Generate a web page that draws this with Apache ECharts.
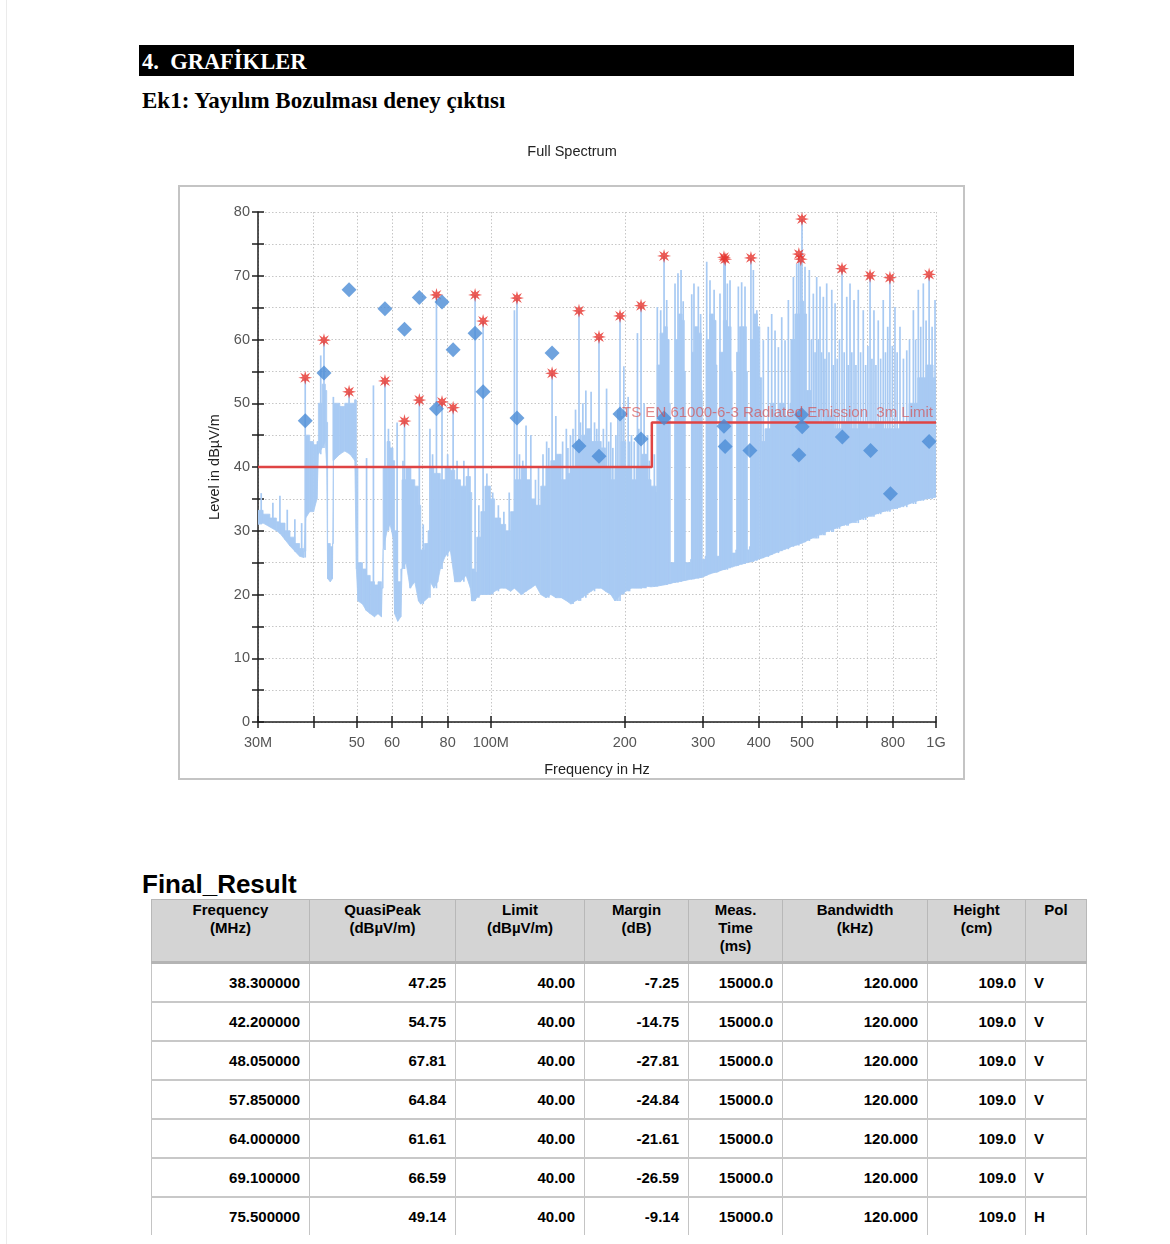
<!DOCTYPE html>
<html><head><meta charset="utf-8">
<script src="https://cdn.jsdelivr.net/npm/echarts@6/dist/echarts.min.js"></script>
<style>
html,body{margin:0;padding:0;background:#fff;}
body{width:1170px;height:1244px;position:relative;overflow:hidden;font-family:"Liberation Sans",Arial,sans-serif;}
#edge{position:absolute;left:6px;top:0;width:1px;height:1244px;background:#ebebeb;}
#hdr{position:absolute;left:139px;top:45px;width:935px;height:31px;background:#000;color:#fff;font:bold 22.5px "Liberation Serif","Times New Roman",serif;line-height:33px;padding-left:3px;box-sizing:border-box;white-space:pre;}
#sub{position:absolute;left:142px;top:88px;font:bold 23px "Liberation Serif","Times New Roman",serif;color:#000;}
#chart{position:absolute;left:0;top:130px;width:1170px;height:670px;}
#fr{position:absolute;left:142px;top:869px;font:bold 26px "Liberation Sans",Arial,sans-serif;color:#000;line-height:30px;}
#tbl{position:absolute;left:151px;top:899px;border-collapse:collapse;table-layout:fixed;width:935px;font:bold 15px "Liberation Sans",Arial,sans-serif;color:#000;}
#tbl th{background:#d4d4d4;height:60px;vertical-align:top;text-align:center;font-weight:bold;line-height:18px;padding:1px 2px 0;border:1px solid #b8b8b8;border-bottom:3px solid #b4b4b4;}
#tbl td{height:37px;text-align:right;padding:0 9px 0 0;border-left:1px solid #c4c4c4;border-right:1px solid #c4c4c4;border-top:2px solid #c8c8c8;}
#tbl td.pol{text-align:left;padding:0 0 0 8px;}
</style></head>
<body>
<div id="edge"></div>
<div id="hdr">4.  GRAFİKLER</div>
<div id="sub">Ek1: Yayılım Bozulması deney çıktısı</div>
<div id="chart"></div>
<div id="fr">Final_Result</div>
<table id="tbl"><colgroup>
<col style="width:158px"><col style="width:146px"><col style="width:129px"><col style="width:104px"><col style="width:94px"><col style="width:145px"><col style="width:98px"><col style="width:61px">
</colgroup><thead><tr id="thead"></tr></thead><tbody id="tbody"></tbody></table>
<script>
// ---------------- data ----------------
const bandFreq = [30.0,30.8,31.9,33.0,33.6,34.5,35.4,36.3,37.2,38.0,38.4,39.2,40.0,40.7,41.0,41.8,42.5,42.8,43.0,43.6,44.1,44.3,45.8,47.0,48.3,49.5,49.9,50.3,51.5,52.5,53.6,54.8,55.8,56.8,57.3,58.5,59.4,60.3,60.8,61.8,62.8,63.2,64.5,65.9,67.5,68.8,69.6,71.0,72.3,73.1,74.5,76.0,77.0,79.0,81.1,83.0,85.5,88.0,90.0,90.6,92.0,93.0,95.0,97.0,99.8,102.0,105.2,108.0,110.8,113.0,117.0,120.0,123.0,126.0,129.5,133.0,136.4,140.0,144.0,148.0,151.4,155.0,160.0,164.0,168.0,172.0,177.0,181.0,186.0,190.0,196.0,201.0,207.0,212.0,218.0,224.0,229.0,235.5,236.5,240,245,249,251.5,253,258,259.5,264,269,272,273.5,281,282.5,287,293,297,298.5,303,304.5,310,316,320.5,322,325,326.5,333,340,346.5,348.5,355,356.5,362,368,375,377,381,383,390,397,402,406,413,425,435,445,458,470,472,482,495,505,512,525,545,565,590,615,641,670,700,730,760,795,830,870,910,950,985,1000];
const bandLow  = [31.0,31.2,30.6,30.0,29.6,28.6,27.6,26.8,26.0,25.8,32.0,33.0,33.0,35.0,42.0,43.0,44.0,40.0,22.5,22.0,22.5,41.0,42.0,42.5,42.0,41.0,24.0,19.0,18.5,17.5,17.0,16.5,17.0,16.5,27.0,30.0,31.0,29.0,17.0,15.8,16.5,24.0,25.0,21.0,22.0,19.0,18.5,19.0,19.5,22.0,21.0,22.0,24.0,26.0,27.0,22.0,22.0,23.0,21.0,19.0,19.0,19.5,20.0,20.0,20.0,20.5,21.0,21.0,20.5,21.0,20.0,20.5,21.0,21.5,20.0,19.5,20.0,19.5,19.5,19.0,18.5,19.0,19.5,20.0,20.5,21.0,21.0,20.5,20.0,19.0,20.0,20.5,21.0,21.0,21.0,21.3,21.2,21.3,21.3,21.4,21.5,21.6,21.7,21.7,21.9,21.9,22.0,22.1,22.2,22.2,22.4,22.4,22.5,22.6,22.7,22.7,22.9,23.0,23.2,23.4,23.5,23.5,23.6,23.7,23.9,24.1,24.3,24.3,24.5,24.5,24.7,24.8,25.0,25.0,25.1,25.1,25.3,25.5,25.6,25.7,25.9,26.2,26.5,26.8,27.1,27.4,27.5,27.7,28.0,28.2,28.4,28.8,29.3,29.8,30.3,30.8,31.2,31.7,32.2,32.6,33.0,33.4,33.7,34.2,34.7,35.0,35.2,35.3];
const bandHigh = [33.2,32.6,32.0,31.4,31.2,30.0,29.0,28.0,27.2,26.8,45.0,44.0,43.5,44.0,50.0,53.0,52.0,47.0,28.0,27.5,28.0,50.0,49.5,50.0,50.0,50.5,40.0,25.0,24.0,23.0,22.0,21.5,22.0,21.0,40.0,44.0,43.0,41.0,30.0,22.0,24.0,38.0,40.0,38.0,37.0,34.0,27.0,28.0,30.0,40.0,39.0,39.0,38.0,40.0,39.5,38.0,37.0,38.5,36.0,24.0,23.5,29.0,33.0,37.0,35.0,32.0,31.0,30.0,33.0,38.0,40.0,38.0,35.0,34.0,37.0,40.0,41.0,42.0,38.0,39.0,40.0,44.0,45.0,46.0,44.0,44.0,43.0,40.0,38.0,40.0,44.0,40.0,38.0,40.0,42.0,38.0,37.0,36.0,56.0,61.0,62.0,60.0,50.0,25.0,25.0,60.0,64.0,63.0,55.0,25.0,25.5,58.0,62.0,61.0,52.0,25.5,26.0,60.0,64.0,63.0,56.0,26.0,26.0,58.0,63.0,62.0,55.0,26.5,27.0,58.0,62.0,62.0,55.0,27.0,27.5,60.0,64.0,62.0,54.0,44.0,46.0,50.0,48.0,50.0,48.0,50.0,60.0,64.0,66.0,64.0,52.0,48.0,47.0,48.0,46.0,47.0,46.0,47.0,46.0,47.0,46.0,46.0,47.0,50.0,54.0,56.0,54.0,47.0];

const spikeFreq = [30.5,32.4,33.6,34.9,36.3,37.6,38.3,41.5,42.2,44.3,48.05,49.6,52.6,54.5,57.85,58.9,61.6,63.5,64.0,66.0,69.1,70.5,73.0,74.0,75.5,77.7,80.0,82.3,84.0,87.0,89.0,92.2,94.0,96.1,98.0,101.0,104.0,107.0,110.0,113.0,114.5,116.0,118.0,120.0,123.0,126.0,128.0,131.0,133.5,135.0,137.3,140.0,143.0,145.0,147.8,149.0,151.0,153.0,155.0,157.8,159.0,161.0,163.5,168.0,171.0,173.0,175.0,179.0,182.0,184.0,186.0,188.0,191.0,193.0,195.1,197.0,199.0,203.5,205.0,207.0,210.0,213.5,215.0,217.5,221.0,223.0,225.0,227.0,233.0,236.6,240.8,245.0,248.4,259.3,263.3,267.5,270.5,282.7,286.0,292.5,296.0,305.5,310.7,317.4,327.2,334.0,336.0,339.9,344.6,359.8,366.0,372.4,384.0,388.8,395.8,409.4,420.0,427.5,435.0,442.6,450.3,458.1,466.0,478.3,486.6,492.0,497.0,500.0,507.9,519.3,525.0,530.2,535.0,539.5,544.0,548.9,553.5,558.4,563.0,568.2,575.0,583.3,588.0,593.4,600.0,607.0,615.0,622.0,630.3,635.0,641.0,647.0,654.4,661.0,669.0,677.0,686.5,695.0,703.0,711.0,718.0,725.5,733.0,741.8,751.0,761.2,770.0,779.0,788.0,798.0,808.8,818.0,830.0,845.0,859.6,872.0,889.6,900.0,912.6,924.0,936.5,950.0,965.0,980.0,995.0];
const spikeTop  = [35.9,34.4,35.5,33.3,31.8,31.2,54.0,57.5,59.9,51.0,51.8,50.6,41.4,52.8,53.5,46.0,47.0,41.0,47.2,40.0,50.5,31.0,46.0,42.0,67.0,50.2,42.0,49.3,41.0,41.0,40.0,67.0,34.0,62.9,39.0,36.0,34.0,33.0,36.0,64.6,66.5,42.0,41.0,46.5,45.0,38.0,40.0,42.0,44.0,43.0,54.7,48.0,42.0,44.0,46.0,43.0,45.0,46.0,49.0,64.5,47.0,50.0,52.0,51.8,47.0,46.0,60.4,46.0,52.3,44.0,47.0,43.0,45.0,49.0,63.7,48.0,55.8,51.0,44.0,45.0,44.0,61.0,46.0,65.3,50.0,42.0,45.0,41.0,42.0,65.1,64.6,73.1,66.2,68.8,70.4,70.9,66.0,67.1,68.8,68.3,64.0,72.2,69.3,67.8,67.2,72.7,73.0,68.8,69.3,68.3,69.0,68.3,72.8,70.9,64.6,59.9,62.0,64.0,61.4,58.8,63.5,59.9,66.2,69.8,71.9,73.4,72.6,78.9,71.4,70.9,60.0,67.2,58.0,69.8,60.0,68.3,58.0,66.7,57.0,68.8,58.0,67.8,56.0,65.7,57.0,60.0,71.1,58.0,66.7,56.0,68.8,58.0,66.2,56.0,67.8,58.0,64.6,56.0,59.0,70.0,57.0,64.6,56.0,63.0,57.0,66.2,58.0,62.0,69.8,59.0,65.1,58.0,62.0,57.0,58.3,60.0,64.6,60.0,67.8,62.0,68.8,63.0,70.1,62.0,66.2];

const limitFreq  = [30, 230, 230, 1000];
const limitLevel = [40, 40, 47, 47];
const limitName  = 'TS EN 61000-6-3 Radiated Emission  3m Limit';

const starFreq  = [38.3,42.2,48.05,57.85,64.0,69.1,75.5,77.7,82.3,92.2,96.1,114.5,137.3,157.8,175.0,195.1,217.5,245.0,334.0,336.0,384.0,492.0,497.0,500.0,615.0,711.0,788.0,965.0];
const starLevel = [54.0,59.9,51.8,53.5,47.2,50.5,67.0,50.2,49.3,67.0,62.9,66.5,54.7,64.5,60.4,63.7,65.3,73.1,72.9,72.6,72.8,73.4,72.6,78.9,71.1,70.0,69.7,70.2];

const qpFreq  = [38.3,42.2,48.05,57.85,64.0,69.1,75.5,77.7,82.3,92.2,96.1,114.5,137.3,157.8,175.0,195.1,217.5,245.0,334.0,336.0,382.0,492.0,499.0,500.5,616.0,713.0,790.0,965.0];
const qpLevel = [47.25,54.75,67.81,64.84,61.61,66.59,49.14,65.9,58.4,61.0,51.8,47.7,57.9,43.3,41.7,48.3,44.4,47.7,46.4,43.2,42.6,41.9,48.2,46.3,44.7,42.6,35.8,44.0];

const xTickFreq  = [30,40,50,60,70,80,100,200,300,400,500,600,700,800,1000];
const xLabelFreq = [30,50,60,80,100,200,300,400,500,800,1000];
const xLabelText = {30:'30M', 100:'100M', 1000:'1G'};

const tblHead   = ['Frequency<br>(MHz)','QuasiPeak<br>(dBµV/m)','Limit<br>(dBµV/m)','Margin<br>(dB)','Meas.<br>Time<br>(ms)','Bandwidth<br>(kHz)','Height<br>(cm)','Pol'];
const tblFreq   = ['38.300000','42.200000','48.050000','57.850000','64.000000','69.100000','75.500000'];
const tblQP     = ['47.25','54.75','67.81','64.84','61.61','66.59','49.14'];
const tblLimit  = ['40.00','40.00','40.00','40.00','40.00','40.00','40.00'];
const tblMargin = ['-7.25','-14.75','-27.81','-24.84','-21.61','-26.59','-9.14'];
const tblTime   = ['15000.0','15000.0','15000.0','15000.0','15000.0','15000.0','15000.0'];
const tblBW     = ['120.000','120.000','120.000','120.000','120.000','120.000','120.000'];
const tblHeight = ['109.0','109.0','109.0','109.0','109.0','109.0','109.0'];
const tblPol    = ['V','V','V','V','V','V','H'];

// ---------------- table ----------------
document.getElementById('thead').innerHTML = tblHead.map(h => '<th>' + h + '</th>').join('');
let rows = '';
for (let i = 0; i < tblFreq.length; i++) {
  rows += '<tr><td>' + tblFreq[i] + '</td><td>' + tblQP[i] + '</td><td>' + tblLimit[i] + '</td><td>' + tblMargin[i] +
    '</td><td>' + tblTime[i] + '</td><td>' + tblBW[i] + '</td><td>' + tblHeight[i] + '</td><td class="pol">' + tblPol[i] + '</td></tr>';
}
document.getElementById('tbody').innerHTML = rows;

// ---------------- chart ----------------
const FONT = '"Liberation Sans", Arial, sans-serif';
const TRACE = '#a8caf3';
const lg = v => Math.log10(v);

const bandData = bandFreq.map((f, i) => [lg(f), bandLow[i], bandHigh[i]]);
function baseFor(f) {
  let k = 0;
  for (let j = 0; j < bandFreq.length; j++) { if (bandFreq[j] <= f) k = j; }
  return bandLow[k];
}
const spikeData = spikeFreq.map((f, i) => [lg(f), baseFor(f), spikeTop[i]]);
const limitData = limitFreq.map((f, i) => [lg(f), limitLevel[i]]);
const starData = starFreq.map((f, i) => [lg(f), starLevel[i]]);
const qpData = qpFreq.map((f, i) => [lg(f), qpLevel[i]]);
const lastLimit = limitData[limitData.length - 1];

function starPath(n, r1, r2) {
  let d = '';
  for (let i = 0; i < 2 * n; i++) {
    const r = i % 2 ? r2 : r1;
    const a = Math.PI * i / n - Math.PI / 2;
    d += (i ? 'L' : 'M') + (r * Math.cos(a)).toFixed(3) + ' ' + (r * Math.sin(a)).toFixed(3);
  }
  return 'path://' + d + 'Z';
}

const axisCol = '#1e1e1e';
const gridLine = { show: true, lineStyle: { color: '#c6c6c6', type: [1.5, 2], width: 1 } };
const xFmt = v => { const f = Math.round(Math.pow(10, v)); return xLabelText[f] || String(f); };

const chart = echarts.init(document.getElementById('chart'));
chart.setOption({
  animation: false,
  backgroundColor: 'transparent',
  title: {
    text: 'Full Spectrum', left: 567, top: 9, textAlign: 'center',
    textStyle: { fontFamily: FONT, fontSize: 14.5, fontWeight: 'normal', color: '#222' }
  },
  graphic: [{
    type: 'rect', shape: { x: 179, y: 56, width: 785, height: 593 },
    style: { fill: '#fff', stroke: '#c4c4c4', lineWidth: 2 }, silent: true, z: -10
  }],
  grid: { left: 258, top: 82, width: 678, height: 510, containLabel: false },
  xAxis: [{
    type: 'value', min: lg(30), max: 3, position: 'bottom',
    axisLine: { show: true, onZero: false, lineStyle: { color: axisCol, width: 1.5 } },
    axisTick: { show: true, length: 6, customValues: xTickFreq.map(lg), lineStyle: { color: axisCol, width: 1.5 } },
    axisLabel: { customValues: xLabelFreq.map(lg), formatter: xFmt, color: '#555', fontSize: 14.5, fontFamily: FONT, margin: 13, showMinLabel: true, showMaxLabel: true },
    splitLine: gridLine,
    name: 'Frequency in Hz', nameLocation: 'middle', nameGap: 40,
    nameTextStyle: { fontFamily: FONT, fontSize: 14.5, color: '#222' }
  }, {
    type: 'value', min: lg(30), max: 3, position: 'bottom',
    axisLine: { show: false },
    axisTick: { show: true, inside: true, length: 6, customValues: xTickFreq.map(lg), lineStyle: { color: axisCol, width: 1.5 } },
    axisLabel: { show: false }, splitLine: { show: false }
  }],
  yAxis: [{
    type: 'value', min: 0, max: 80, interval: 5,
    axisLine: { show: true, lineStyle: { color: axisCol, width: 1.5 } },
    axisTick: { show: true, length: 6, lineStyle: { color: axisCol, width: 1.5 } },
    axisLabel: { formatter: v => (v % 10 === 0 ? String(v) : ''), color: '#555', fontSize: 14.5, fontFamily: FONT, margin: 8 },
    splitLine: gridLine,
    name: 'Level in dBµV/m', nameLocation: 'middle', nameGap: 36,
    nameTextStyle: { fontFamily: FONT, fontSize: 14.5, color: '#222' }
  }, {
    type: 'value', min: 0, max: 80, interval: 5, position: 'left',
    axisLine: { show: false },
    axisTick: { show: true, inside: true, length: 6, lineStyle: { color: axisCol, width: 1.5 } },
    axisLabel: { show: false }, splitLine: { show: false }
  }],
  series: [
    {
      name: 'Spectrum', type: 'custom', coordinateSystem: 'cartesian2d', clip: true, silent: true, z: 1,
      data: bandData, encode: { x: 0, y: [1, 2] },
      renderItem: function (params, api) {
        const i = params.dataIndex;
        if (i >= bandData.length - 1) return { type: 'group', children: [] };
        const n = bandData[i + 1];
        const hi = api.value(2);
        const pts = [
          api.coord([api.value(0), api.value(1)]),
          api.coord([api.value(0), hi]),
          api.coord([n[0], hi]),
          api.coord([n[0], n[1]])
        ];
        return { type: 'polygon', shape: { points: pts }, style: { fill: TRACE, stroke: TRACE, lineWidth: 0.8 } };
      }
    },
    {
      name: 'Spectrum peaks', type: 'custom', coordinateSystem: 'cartesian2d', clip: true, silent: true, z: 1,
      data: spikeData, encode: { x: 0, y: [1, 2] },
      renderItem: function (params, api) {
        const a = api.coord([api.value(0), api.value(1)]);
        const b = api.coord([api.value(0), api.value(2)]);
        return { type: 'line', shape: { x1: a[0], y1: a[1], x2: b[0], y2: b[1] }, style: { stroke: TRACE, lineWidth: 1.7 } };
      }
    },
    {
      name: limitName, type: 'line', data: limitData, showSymbol: false, symbol: 'none', z: 3, silent: true,
      lineStyle: { color: '#df4444', width: 2.5 }
    },
    {
      name: 'limit label', type: 'scatter', data: [lastLimit], symbolSize: 1, clip: false, z: 6, silent: true,
      itemStyle: { color: 'rgba(0,0,0,0)' },
      label: { show: true, formatter: limitName, position: 'top', align: 'right', distance: 2, offset: [-3, 0],
        color: 'rgba(212,70,70,0.8)', fontSize: 15, fontFamily: FONT }
    },
    {
      name: 'Peaks', type: 'scatter', data: starData, symbol: starPath(8, 10, 4.2), symbolSize: 14, z: 4, silent: true,
      itemStyle: { color: '#e6322c' }
    },
    {
      name: 'Final_Result', type: 'scatter', data: qpData, symbol: 'diamond', symbolSize: 15, z: 5, silent: true,
      itemStyle: { color: '#4b8cd6' }
    }
  ]
});
</script>
</body></html>
